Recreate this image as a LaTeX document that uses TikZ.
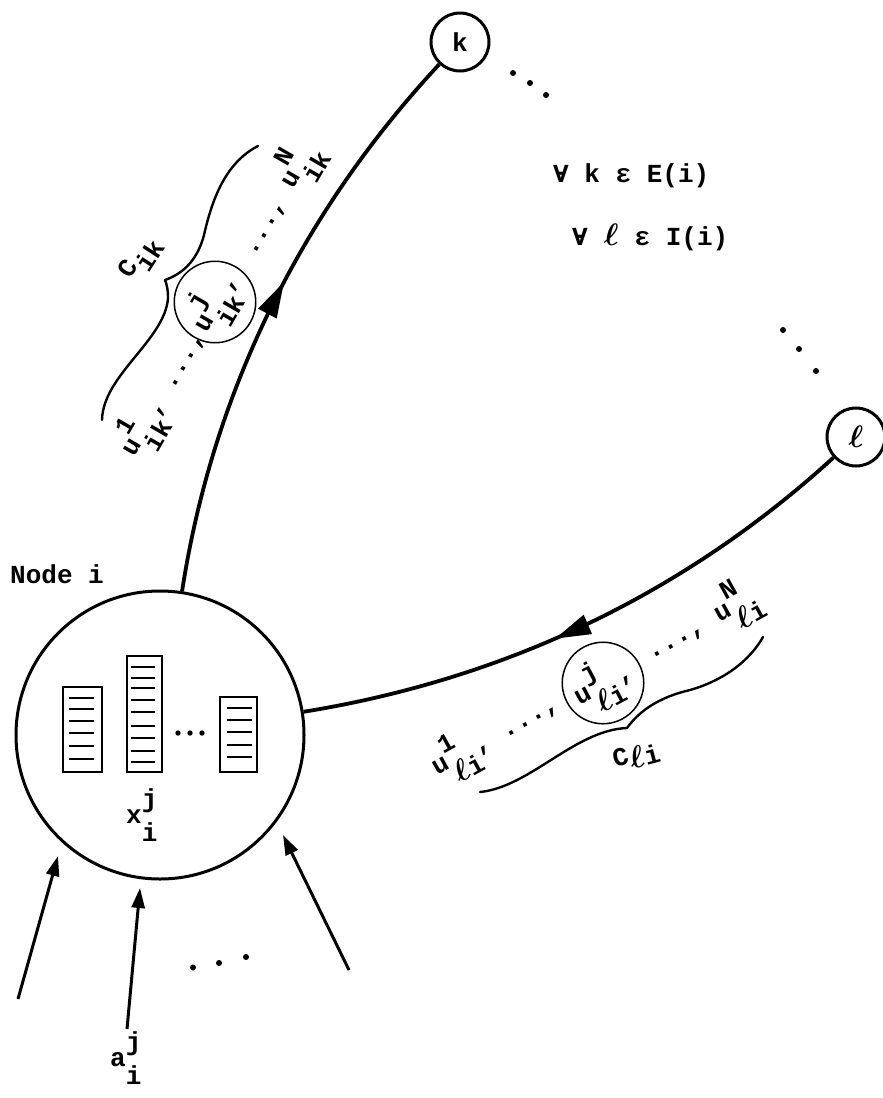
\documentclass[tikz,border=0pt]{standalone}
\usepackage{fontspec}
\usepackage{amsmath}
\setmainfont{Liberation Mono}
\usetikzlibrary{arrows.meta,decorations.markings}
\frenchspacing
\newcommand{\ts}[3]{#1\rlap{\raisebox{16pt}{#2}}\raisebox{-18pt}{#3}}
\newcommand{\el}{\makebox[0.6em]{\scalebox{1.25}{$\boldsymbol{\ell}$}}}
\newcommand{\fa}{\rlap{V}\raisebox{0.05em}{-}}
\tikzset{
 txt/.style={font=\fontsize{26}{30}\selectfont\bfseries, inner sep=0pt},
 bignode/.style={circle, draw, line width=3pt, minimum size=288pt, inner sep=0pt},
 endnode/.style={circle, draw, line width=3pt, minimum size=58pt, inner sep=0pt, txt},
 labcirc/.style={circle, draw, line width=1.5pt, minimum size=74pt, inner sep=0pt, txt},
 edge/.style={line width=3.8pt},
 arrowmark/.style={postaction={decorate}, decoration={markings, mark=at position #1 with {\arrow{Triangle[length=36pt,width=20pt]}}}},
 inarrow/.style={line width=3pt, -{Triangle[length=20pt,width=13pt]}},
 brace/.style={line width=2.4pt, line cap=round, line join=round},
 stack/.style={line width=1.8pt},
}
\begin{document}
\begin{tikzpicture}[x=1pt,y=-1pt]
\useasboundingbox (0,0) rectangle (883,1098);
% main nodes
\node[bignode] (i) at (160,735) {};
\node[endnode] (k) at (460,42) {k};
\node[endnode] (l) at (856,437) {\el};
\node[txt, anchor=base west] (nodei) at (10,583) {Node i};

% edges
\draw[edge, arrowmark=0.55] (i) .. controls (212.4,393.8) and (300.3,213.7) .. (k);
\draw[edge, arrowmark=0.56] (l) .. controls (683.2,594.7) and (504.2,679.3) .. (i);

% stacks inside node i
\draw[stack] (63,687) rectangle (102,772);
\foreach \y in {698,709,721,733,746,759} \draw[stack] (69,\y) -- (94,\y);
\draw[stack] (127,656) rectangle (162,772);
\foreach \y in {667,678,688,700,712,726,738,751,762} \draw[stack] (131,\y) -- (155,\y);
\draw[stack] (220,697) rectangle (257,772);
\foreach \y in {708,720,732,745,757} \draw[stack] (227,\y) -- (252,\y);
\foreach \x in {178,190,202} \fill (\x,733) circle (2.7pt);
\node[txt, anchor=base west] (xij) at (126,823) {\ts{x}{j}{i}};

% incoming arrows
\coordinate (t1) at (18,999);  \coordinate (h1) at (58,856);
\coordinate (t2) at (127,1029); \coordinate (h2) at (140,888);
\coordinate (t3) at (349,970); \coordinate (h3) at (283,835);
\draw[inarrow] (t1) -- (h1);
\draw[inarrow] (t2) -- (h2);
\draw[inarrow] (t3) -- (h3);
\foreach \p in {(193,967.5),(219,963),(246,957)} \fill \p circle (3pt);
\node[txt, anchor=base west] (aij) at (110,1066) {\ts{a}{j}{i}};

% dots near k and l
\foreach \p in {(513,73),(530,83),(546,95)} \fill \p circle (3pt);
\foreach \p in {(783,330),(799,349),(816,371)} \fill \p circle (3pt);

% quantifiers
\node[txt, anchor=base west] (ek) at (553,182) {\fa{} k ε E(i)};
\node[txt, anchor=base west] (il) at (572,245) {\fa{} \el{} ε I(i)};

% upper labels
\node[txt, anchor=base west, rotate=60] (ua) at (134,458) {\ts{u}{1}{ik}, ...,};
\node[labcirc, rotate=60] (uj) at (215,302) {\ts{u}{j}{ik},};
\node[txt, anchor=base west, rotate=60] (ub) at (254,257) {..., \ts{u}{N}{ik}};
\node[txt, anchor=base west, rotate=57] (cik) at (130,280) {C\raisebox{-12pt}{ik}};
\draw[brace] (102,420) .. controls (103,375) and (165,340) .. (168,298) .. controls (168,290) and (167,285) .. (165,280) .. controls (185,273) and (198,258) .. (204,235) .. controls (212,200) and (225,163) .. (258,146);

% lower labels
\node[txt, anchor=base west, rotate=29] (la) at (437,776) {\ts{u}{1}{\el i}, ...,};
\node[labcirc, rotate=28] (lj) at (603,683) {\ts{u}{j}{\el i},};
\node[txt, anchor=base west, rotate=29] (lb) at (651,660) {..., \ts{u}{N}{\el i}};
\node[txt, anchor=base west, rotate=15] (cli) at (615,768) {C\raisebox{-6pt}{\el i}};
\draw[brace] (480,792) .. controls (530,787) and (575,730) .. (627,728) .. controls (640,710) and (660,697) .. (690,690) .. controls (725,680) and (750,660) .. (763,637);
\end{tikzpicture}
\end{document}
